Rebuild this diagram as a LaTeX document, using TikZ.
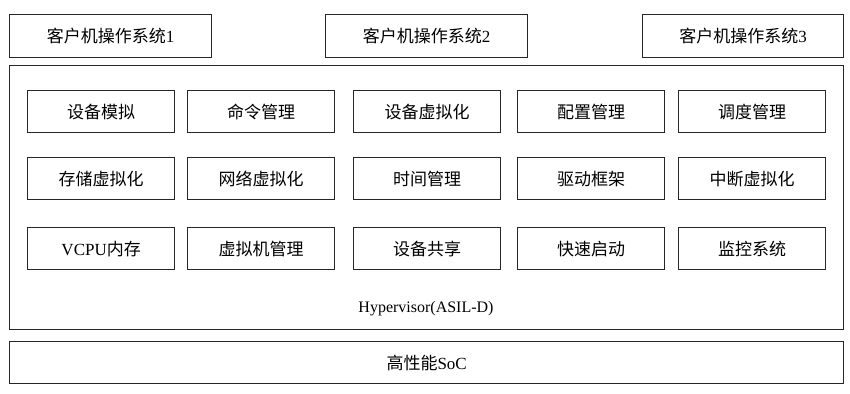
\documentclass[tikz,border=0pt]{standalone}
\usepackage{fontspec}
\setmainfont{Liberation Serif}
\newfontfamily\cjk{Noto Sans CJK SC}
\begin{document}
\begin{tikzpicture}[x=1pt,y=-1pt,
  box/.style={draw=black!85,line width=1.3pt,rectangle,inner sep=0pt,anchor=north west},
  lbl/.style={font=\fontsize{17}{19}\selectfont}]
\useasboundingbox (0,0) rectangle (850,393);
% guest OS boxes
\node[box,minimum width=202pt,minimum height=43pt,lbl] (g1) at (9,14) {{\cjk 客户机操作系统}1};
\node[box,minimum width=202pt,minimum height=43pt,lbl] (g2) at (325,14) {{\cjk 客户机操作系统}2};
\node[box,minimum width=201pt,minimum height=43pt,lbl] (g3) at (642,14) {{\cjk 客户机操作系统}3};
% hypervisor
\node[box,minimum width=834pt,minimum height=264pt] (hv) at (9,65) {};
\node[font=\fontsize{16}{18}\selectfont] (hvt) at (426,309) {Hypervisor(ASIL-D)};
% inner modules
\foreach \r/\y in {1/90,2/157,3/227}{
  \foreach \c/\x in {1/27,2/187,3/353,4/517,5/678}{
    \coordinate (p\r\c) at (\x,\y);
  }
}
\tikzset{mod/.style={box,minimum width=147pt,minimum height=42pt,lbl}}
\node[mod] (m11) at (p11) {\cjk 设备模拟};
\node[mod] (m12) at (p12) {\cjk 命令管理};
\node[mod] (m13) at (p13) {\cjk 设备虚拟化};
\node[mod] (m14) at (p14) {\cjk 配置管理};
\node[mod] (m15) at (p15) {\cjk 调度管理};
\node[mod] (m21) at (p21) {\cjk 存储虚拟化};
\node[mod] (m22) at (p22) {\cjk 网络虚拟化};
\node[mod] (m23) at (p23) {\cjk 时间管理};
\node[mod] (m24) at (p24) {\cjk 驱动框架};
\node[mod] (m25) at (p25) {\cjk 中断虚拟化};
\node[mod] (m31) at (p31) {VCPU{\cjk 内存}};
\node[mod] (m32) at (p32) {\cjk 虚拟机管理};
\node[mod] (m33) at (p33) {\cjk 设备共享};
\node[mod] (m34) at (p34) {\cjk 快速启动};
\node[mod] (m35) at (p35) {\cjk 监控系统};
% SoC
\node[box,minimum width=834pt,minimum height=42pt,lbl] (soc) at (9,341) {{\cjk 高性能}SoC};
\end{tikzpicture}
\end{document}
